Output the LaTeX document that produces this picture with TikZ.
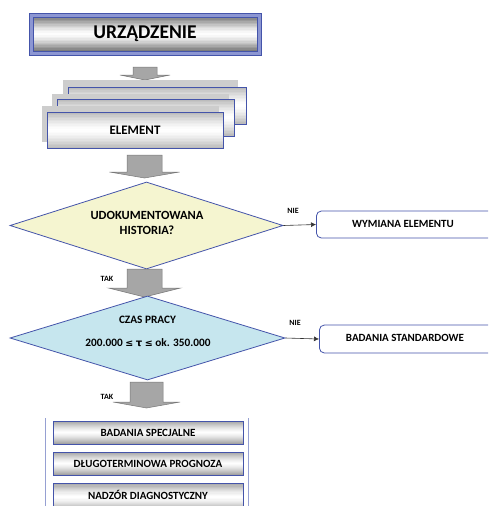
\documentclass[tikz,border=0pt]{standalone}
\usepackage{fontspec}
\setmainfont{Carlito}
\newfontfamily\symfont{DejaVu Sans}
\usetikzlibrary{shapes.geometric,arrows.meta}
\definecolor{bblue}{RGB}{68,84,170}
\definecolor{lav}{RGB}{140,150,210}
\definecolor{agray}{RGB}{166,166,166}
\definecolor{agrayd}{RGB}{120,120,120}
\definecolor{yel}{RGB}{245,245,208}
\definecolor{cyanf}{RGB}{198,230,238}
\definecolor{brk}{RGB}{150,160,210}
\definecolor{shd}{RGB}{205,205,205}
\tikzset{
  outline/.style={draw=bblue, line width=0.8pt, inner sep=0pt},
  bigtext/.style={font=\bfseries\fontsize{19.5}{21}\selectfont},
  eltext/.style={font=\bfseries\fontsize{13}{15}\selectfont},
  shadowbox/.style={fill=shd},
  decision/.style={diamond, draw=bblue, line width=0.8pt, inner sep=0pt},
  dtext/.style={font=\bfseries\fontsize{12.5}{15}\selectfont, inner sep=0pt, align=center},
  d2text/.style={font=\bfseries\fontsize{11.3}{13}\selectfont, inner sep=0pt},
  outbox/.style={draw=bblue, line width=0.8pt, fill=white, rounded corners=5pt, inner sep=0pt},
  otext/.style={font=\bfseries\fontsize{11}{13}\selectfont, inner sep=0pt},
  subtext/.style={font=\bfseries\fontsize{11}{13}\selectfont, inner sep=0pt},
  blockarr/.style={fill=agray, draw=agrayd, line width=0.5pt},
  thinarr/.style={draw=black!80, line width=0.6pt, -{Latex[length=5pt,width=5pt]}},
  lbl/.style={font=\bfseries\fontsize{8}{9}\selectfont, inner sep=0pt},
  brkline/.style={draw=brk, line width=1pt}
}
\newcommand\blkarrow[6]{%
  \draw[blockarr] (#1-#5,#2) -- (#1+#5,#2) -- (#1+#5,#3) -- (#1+#6,#3) -- (#1,#4) -- (#1-#6,#3) -- (#1-#5,#3) -- cycle;}
% vertical gradient: dark at top/bottom, white in the middle
\newcommand\gradrect[5]{%
  \foreach \i in {0,...,23}{%
    \pgfmathsetmacro\ya{#2+(#4-#2)*\i/24}%
    \pgfmathsetmacro\yb{#2+(#4-#2)*(\i+1)/24+0.4}%
    \pgfmathsetmacro\pc{#5*(abs(2*(\i+0.5)/24-1))^1.4}%
    \fill[black!\pc] (#1,\ya) rectangle (#3,\yb);
  }}
\begin{document}
\begin{tikzpicture}[x=1pt,y=-1pt]
\useasboundingbox (0,0) rectangle (488,506);
\clip (0,0) rectangle (488,506);
\fill[white] (0,0) rectangle (488,506);
% top box
\node[draw=bblue, fill=lav, line width=0.8pt, minimum width=232pt, minimum height=42pt, inner sep=0pt] (urzf) at (145,34) {};
\gradrect{33}{17}{257}{51}{55}
\node[outline, minimum width=224pt, minimum height=34pt, bigtext] (urz) at (145,34) {URZĄDZENIE};
% arrow 1
\blkarrow{145}{67}{75}{80}{12}{25}
% element stack
\fill[shadowbox] (63,80) rectangle (238,118);
\gradrect{68}{87}{246}{124}{28}
\node[outline, minimum width=178pt, minimum height=37pt] (elback) at (157,105.5) {};
\fill[shadowbox] (52,94) rectangle (229,130);
\gradrect{57}{99}{234}{136}{28}
\node[outline, minimum width=177pt, minimum height=37pt] (elmid) at (145.5,117.5) {};
\fill[shadowbox] (42,106) rectangle (219,142);
\gradrect{47}{112}{223}{148}{28}
\node[outline, minimum width=176pt, minimum height=36pt, eltext] (el) at (135,130) {ELEMENT};
% arrow 2
\blkarrow{144.5}{155}{172}{178}{17.5}{35}
% decision 1
\node[decision, fill=yel, minimum width=273pt, minimum height=87pt] (d1) at (146.5,225.5) {};
\node[dtext] (d1t) at (147,222.5) {UDOKUMENTOWANA\\HISTORIA?};
\node[outbox, minimum width=190pt, minimum height=27pt, anchor=west] (wym) at (316,224.5) {};
\node[otext] (wymt) at (403,224) {WYMIANA ELEMENTU};
\draw[thinarr] (d1.east) -- (wym.west);
\node[lbl] (nie1) at (293,211) {NIE};
% TAK 1 and arrow 3
\node[lbl] (tak1) at (107,279) {TAK};
\blkarrow{144.5}{269}{288}{297}{17.5}{36}
% decision 2
\node[decision, fill=cyanf, minimum width=275pt, minimum height=84pt] (d2) at (147.5,338) {};
\node[d2text] (d2a) at (147.5,320) {CZAS PRACY};
\node[d2text] (d2b) at (148,343) {200.000 {\symfont\fontsize{9.5}{11}\selectfont ≤} {\symfont\fontsize{10}{11}\selectfont τ} {\symfont\fontsize{9.5}{11}\selectfont ≤} ok. 350.000};
\node[outbox, minimum width=190pt, minimum height=28pt, anchor=west] (bst) at (319,339) {};
\node[otext] (bstt) at (405,338) {BADANIA STANDARDOWE};
\draw[thinarr] (d2.east) -- (bst.west);
\node[lbl] (nie2) at (295,323) {NIE};
% TAK 2 and arrow 4
\node[lbl] (tak2) at (107,397) {TAK};
\blkarrow{146.5}{382}{402}{408}{16.5}{33.5}
% bracket
\coordinate (bl1) at (45,418);
\coordinate (bl2) at (45,510);
\coordinate (br1) at (248,418);
\coordinate (br2) at (248,510);
\draw[brkline] (bl1) -- (bl2);
\draw[brkline] (br1) -- (br2);
% sub boxes
\gradrect{53}{421}{243}{444}{38}
\node[outline, minimum width=190pt, minimum height=23pt] (s1) at (148,432.5) {};
\node[subtext] (s1t) at (148,432.5) {BADANIA SPECJALNE};
\gradrect{53}{452}{243}{475}{38}
\node[outline, minimum width=190pt, minimum height=23pt] (s2) at (148,463.5) {};
\node[subtext] (s2t) at (148,463.5) {DŁUGOTERMINOWA PROGNOZA};
\gradrect{53}{483}{243}{511}{38}
\node[outline, minimum width=190pt, minimum height=28pt] (s3) at (148,497) {};
\node[subtext] (s3t) at (148,494.5) {NADZÓR DIAGNOSTYCZNY};
\end{tikzpicture}
\end{document}
